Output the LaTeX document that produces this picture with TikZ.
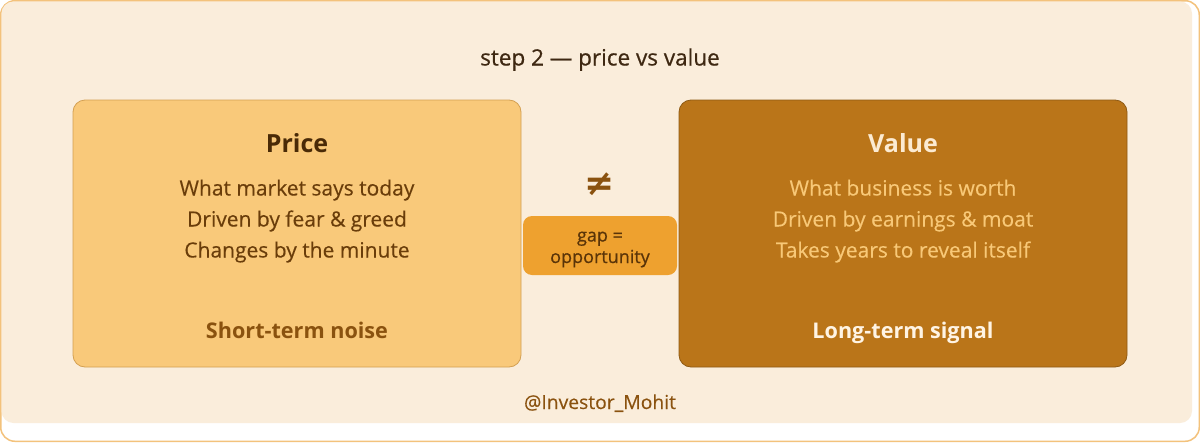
\documentclass[tikz,border=0pt]{standalone}
\usepackage{fontspec}
\setmainfont{Open Sans}
\newfontfamily\symfont{DejaVu Sans}
\newfontfamily\medfont[FakeBold=0.6]{Open Sans}
\newfontfamily\lightmed[FakeBold=0.3]{Open Sans}
\definecolor{outerline}{HTML}{F3C27C}
\definecolor{creambg}{HTML}{FAEDDB}
\definecolor{pricefill}{HTML}{F9C97A}
\definecolor{priceline}{HTML}{D4A052}
\definecolor{valuefill}{HTML}{BA7519}
\definecolor{valueline}{HTML}{8E5A14}
\definecolor{gapfill}{HTML}{EEA12F}
\definecolor{titletext}{HTML}{3E2812}
\definecolor{pricehead}{HTML}{4A2A06}
\definecolor{pricebody}{HTML}{6A3D0A}
\definecolor{accent}{HTML}{8A520F}
\definecolor{valuehead}{HTML}{FCEBD2}
\definecolor{valuebody}{HTML}{F8C877}
\definecolor{valuefoot}{HTML}{FFF4E4}
\definecolor{gaptext}{HTML}{5A3408}
\begin{document}
\begin{tikzpicture}[x=1pt,y=-1pt,
  panel/.style={rounded corners=12pt, line width=0.8pt, minimum width=448pt, minimum height=267pt, inner sep=0pt},
  txt/.style={anchor=base, inner sep=0pt},
  headfont/.style={font=\fontsize{25}{30}\selectfont\bfseries},
  bodyfont/.style={font=\lightmed\fontsize{21}{25}\selectfont},
  footfont/.style={font=\fontsize{21.6}{26}\selectfont\bfseries}]
\useasboundingbox (0,0) rectangle (1200,442);
\draw[fill=white, draw=outerline, line width=1.5pt, rounded corners=14pt] (0.75,0.75) rectangle (1199.25,441.25);
\fill[creambg, rounded corners=12pt] (1.5,1.5) rectangle (1192,423);

\node[txt, text=titletext, font=\medfont\fontsize{22.5}{26}\selectfont] (title) at (600,65.5) {step 2 — price vs value};

\node[panel, draw=priceline, fill=pricefill] (price) at (297,233.5) {};
\node[panel, draw=valueline, fill=valuefill] (value) at (903,233.5) {};
\node[rounded corners=9pt, fill=gapfill, minimum width=154pt, minimum height=59pt, inner sep=0pt] (gap) at (600,245.5) {};

\node[txt, headfont, text=pricehead] (ph) at (297,152.5) {Price};
\node[txt, bodyfont, text=pricebody] (p1) at (297,195.5) {What market says today};
\node[txt, bodyfont, text=pricebody] (p2) at (297,226.5) {Driven by fear \& greed};
\node[txt, bodyfont, text=pricebody] (p3) at (297,257.5) {Changes by the minute};
\node[txt, footfont, text=accent] (pf) at (297,338) {Short-term noise};

\node[txt, headfont, text=valuehead] (vh) at (903,152.5) {Value};
\node[txt, bodyfont, text=valuebody] (v1) at (903,195.5) {What business is worth};
\node[txt, bodyfont, text=valuebody] (v2) at (903,226.5) {Driven by earnings \& moat};
\node[txt, bodyfont, text=valuebody] (v3) at (903,257.5) {Takes years to reveal itself};
\node[txt, footfont, text=valuefoot] (vf) at (903,338) {Long-term signal};

\node[inner sep=0pt, text=accent, font=\symfont\fontsize{36}{38}\selectfont\bfseries] (neq) at (600,184) {≠};
\node[txt, text=gaptext, font=\medfont\fontsize{18}{21}\selectfont] (g1) at (600,241.5) {gap =};
\node[txt, text=gaptext, font=\medfont\fontsize{18}{21}\selectfont] (g2) at (600,263) {opportunity};

\node[txt, text=accent, font=\lightmed\fontsize{19.3}{22}\selectfont] (handle) at (600,409) {@Investor\_Mohit};
\end{tikzpicture}
\end{document}
